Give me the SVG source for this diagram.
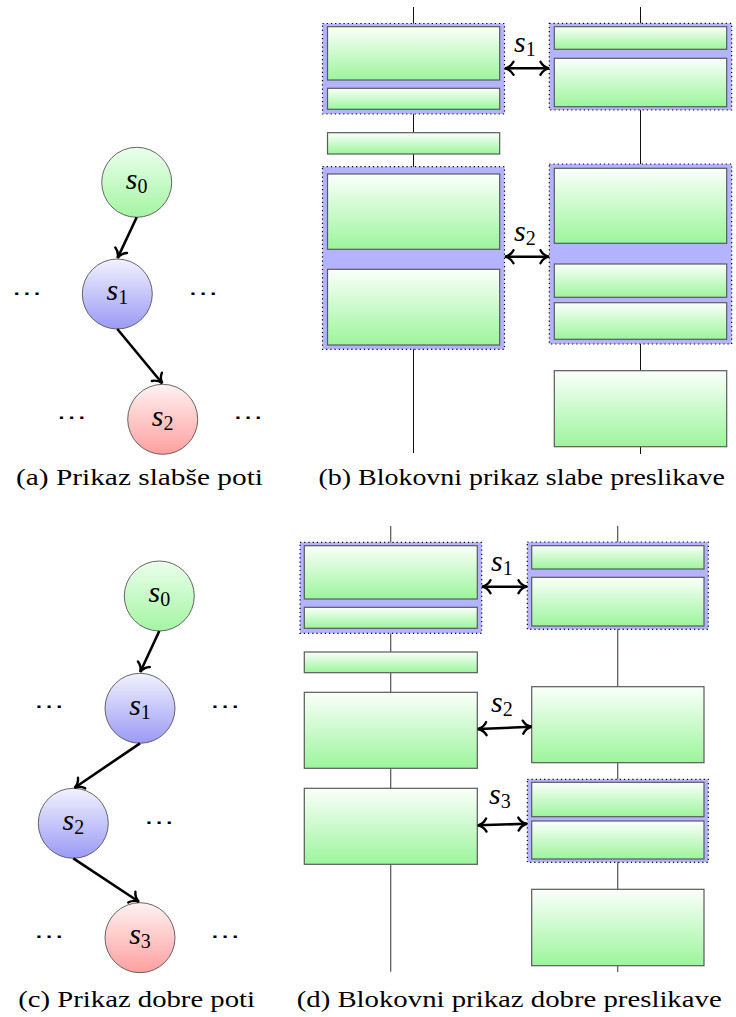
<svg xmlns="http://www.w3.org/2000/svg" width="736" height="1017" viewBox="0 0 736 1017">
  <defs>
    <linearGradient id="gBox" x1="0" y1="0" x2="0" y2="1">
      <stop offset="0" stop-color="#fbfffb"/>
      <stop offset="1" stop-color="#9cf59c"/>
    </linearGradient>
    <linearGradient id="gGreen" x1="0" y1="0" x2="0" y2="1">
      <stop offset="0" stop-color="#ecffec"/>
      <stop offset="1" stop-color="#a3f5a3"/>
    </linearGradient>
    <linearGradient id="gBlue" x1="0" y1="0" x2="0" y2="1">
      <stop offset="0" stop-color="#f2f2ff"/>
      <stop offset="1" stop-color="#9a9af5"/>
    </linearGradient>
    <linearGradient id="gRed" x1="0" y1="0" x2="0" y2="1">
      <stop offset="0" stop-color="#fff2f2"/>
      <stop offset="1" stop-color="#ff9f9f"/>
    </linearGradient>
    <marker id="to" viewBox="-10 -8 12 16" refX="0" refY="0" markerWidth="12" markerHeight="16" markerUnits="userSpaceOnUse" orient="auto-start-reverse">
      <path d="M -8 -6.5 C -6 -2.6 -2.5 -0.7 0.5 0 C -2.5 0.7 -6 2.6 -8 6.5" fill="none" stroke="#000" stroke-width="2.4" stroke-linecap="round"/>
    </marker>
  </defs>
  <style>
    .box { fill: url(#gBox); stroke: #5a5a5a; stroke-width: 1.2; }
    .grp { fill: #b3b3ff; stroke: #000; stroke-width: 1.2; stroke-dasharray: 1.2 3; }
    .axisB { stroke: #111; stroke-width: 1; }
    .axisD { stroke: #555; stroke-width: 1.2; }
    .node { stroke: #555; stroke-width: 0.9; }
    .edge { stroke: #000; stroke-width: 2.6; fill: none; marker-end: url(#to); }
    .map { stroke: #000; stroke-width: 2.6; fill: none; marker-start: url(#to); marker-end: url(#to); }
    .lbl { font-family: "Liberation Serif", serif; font-size: 30px; fill: #000; }
    .lbl .v { font-style: italic; }
    .lbl .i { font-size: 20px; }
    .dots { font-family: "DejaVu Sans", sans-serif; font-size: 20px; fill: #000; }
    .cap { font-family: "Liberation Serif", serif; font-size: 23px; fill: #000; }
  </style>

  <!-- (a) weaker path -->
  <g id="pathA">
    <g id="a-s0"><circle class="node" cx="136.7" cy="182.3" r="35" fill="url(#gGreen)"/><text class="lbl" x="136.7" y="188.5" text-anchor="middle"><tspan class="v">s</tspan><tspan class="i" dy="4">0</tspan></text></g>
    <g id="a-s1"><circle class="node" cx="117.3" cy="294" r="35" fill="url(#gBlue)"/><text class="lbl" x="117.3" y="300.2" text-anchor="middle"><tspan class="v">s</tspan><tspan class="i" dy="4">1</tspan></text></g>
    <g id="a-s2"><circle class="node" cx="162.7" cy="419.3" r="35" fill="url(#gRed)"/><text class="lbl" x="162.7" y="425.5" text-anchor="middle"><tspan class="v">s</tspan><tspan class="i" dy="4">2</tspan></text></g>
    <g id="a-dots" class="dots">
      <text x="27" y="300" text-anchor="middle" textLength="30" lengthAdjust="spacingAndGlyphs">⋯</text>
      <text x="203.3" y="300" text-anchor="middle" textLength="30" lengthAdjust="spacingAndGlyphs">⋯</text>
      <text x="71.7" y="424" text-anchor="middle" textLength="30" lengthAdjust="spacingAndGlyphs">⋯</text>
      <text x="248.3" y="424" text-anchor="middle" textLength="30" lengthAdjust="spacingAndGlyphs">⋯</text>
    </g>
  </g>
  <g id="edgesA">
    <line class="edge" x1="136.7" y1="217.3" x2="117.8" y2="257.5"/>
    <line class="edge" x1="117.3" y1="329" x2="162" y2="383"/>
  </g>
  <text class="cap" x="16" y="485" textLength="247" lengthAdjust="spacingAndGlyphs">(a) Prikaz slabše poti</text>

  <!-- (b) block view of the weak mapping -->
  <g id="axesB">
    <line class="axisB" x1="413.5" y1="7" x2="413.5" y2="453"/>
    <line class="axisB" x1="640.5" y1="7" x2="640.5" y2="454"/>
  </g>
  <g id="b-L1">
    <rect class="grp" x="322.5" y="23.5" width="182" height="90.5"/>
    <rect class="box" x="327.5" y="26.7" width="172.2" height="53.3"/>
    <rect class="box" x="327.5" y="88.3" width="172.2" height="21"/>
  </g>
  <g id="b-L2"><rect class="box" x="327.5" y="132.7" width="172.2" height="21.3"/></g>
  <g id="b-L3">
    <rect class="grp" x="322.5" y="166.7" width="182" height="182.6"/>
    <rect class="box" x="327.5" y="174" width="172.2" height="75.3"/>
    <rect class="box" x="327.5" y="269.3" width="172.2" height="75.7"/>
  </g>
  <g id="b-R1">
    <rect class="grp" x="549.3" y="23.3" width="182.4" height="86.7"/>
    <rect class="box" x="554.3" y="26.7" width="172.4" height="22.6"/>
    <rect class="box" x="554.3" y="58.3" width="172.4" height="48.4"/>
  </g>
  <g id="b-R2">
    <rect class="grp" x="549.3" y="164" width="182.4" height="180"/>
    <rect class="box" x="554.3" y="168.3" width="172.4" height="75"/>
    <rect class="box" x="554.3" y="264" width="172.4" height="33.3"/>
    <rect class="box" x="554.3" y="302.7" width="172.4" height="36.6"/>
  </g>
  <g id="b-R3"><rect class="box" x="554.3" y="370.7" width="172.4" height="76"/></g>
  <g id="mapsB">
    <line class="map" x1="505.5" y1="68.3" x2="548.5" y2="68.3"/>
    <line class="map" x1="505.5" y1="256.7" x2="548.5" y2="256.7"/>
  </g>
  <g id="mapLabelsB">
    <text class="lbl" x="514" y="51.5"><tspan class="v">s</tspan><tspan class="i" dy="4">1</tspan></text>
    <text class="lbl" x="514" y="240.5"><tspan class="v">s</tspan><tspan class="i" dy="4">2</tspan></text>
  </g>
  <text class="cap" x="318.5" y="485" textLength="406.5" lengthAdjust="spacingAndGlyphs">(b) Blokovni prikaz slabe preslikave</text>

  <!-- (c) better path -->
  <g id="pathC">
    <g id="c-s0"><circle class="node" cx="159.3" cy="596" r="35" fill="url(#gGreen)"/><text class="lbl" x="159.3" y="602.2" text-anchor="middle"><tspan class="v">s</tspan><tspan class="i" dy="4">0</tspan></text></g>
    <g id="c-s1"><circle class="node" cx="140" cy="708.3" r="35" fill="url(#gBlue)"/><text class="lbl" x="140" y="714.5" text-anchor="middle"><tspan class="v">s</tspan><tspan class="i" dy="4">1</tspan></text></g>
    <g id="c-s2"><circle class="node" cx="73.3" cy="823.3" r="35" fill="url(#gBlue)"/><text class="lbl" x="73.3" y="829.5" text-anchor="middle"><tspan class="v">s</tspan><tspan class="i" dy="4">2</tspan></text></g>
    <g id="c-s3"><circle class="node" cx="140" cy="937.7" r="35" fill="url(#gRed)"/><text class="lbl" x="140" y="943.9" text-anchor="middle"><tspan class="v">s</tspan><tspan class="i" dy="4">3</tspan></text></g>
    <g id="c-dots" class="dots">
      <text x="49.3" y="713.4" text-anchor="middle" textLength="30" lengthAdjust="spacingAndGlyphs">⋯</text>
      <text x="225.3" y="713.4" text-anchor="middle" textLength="30" lengthAdjust="spacingAndGlyphs">⋯</text>
      <text x="159.3" y="829" text-anchor="middle" textLength="30" lengthAdjust="spacingAndGlyphs">⋯</text>
      <text x="49.3" y="943.4" text-anchor="middle" textLength="30" lengthAdjust="spacingAndGlyphs">⋯</text>
      <text x="225.3" y="943.4" text-anchor="middle" textLength="30" lengthAdjust="spacingAndGlyphs">⋯</text>
    </g>
  </g>
  <g id="edgesC">
    <line class="edge" x1="159.3" y1="631" x2="140.5" y2="671.5"/>
    <line class="edge" x1="140" y1="743.3" x2="75" y2="787.5"/>
    <line class="edge" x1="73.3" y1="858.3" x2="138.5" y2="901.5"/>
  </g>
  <text class="cap" x="18.3" y="1006.5" textLength="236.7" lengthAdjust="spacingAndGlyphs">(c) Prikaz dobre poti</text>

  <!-- (d) block view of the good mapping -->
  <g id="axesD">
    <line class="axisD" x1="390.7" y1="526" x2="390.7" y2="971.7"/>
    <line class="axisD" x1="617.7" y1="526" x2="617.7" y2="972"/>
  </g>
  <g id="d-L1">
    <rect class="grp" x="300" y="542.3" width="181.7" height="91"/>
    <rect class="box" x="304.3" y="545.7" width="173" height="53.3"/>
    <rect class="box" x="304.3" y="607.3" width="173" height="21"/>
  </g>
  <g id="d-L2"><rect class="box" x="304.3" y="652" width="173" height="20.7"/></g>
  <g id="d-L3"><rect class="box" x="304.3" y="692.3" width="173" height="76"/></g>
  <g id="d-L4"><rect class="box" x="304.3" y="788.3" width="173" height="76"/></g>
  <g id="d-R1">
    <rect class="grp" x="527.3" y="542" width="181" height="87.3"/>
    <rect class="box" x="531.7" y="545.7" width="172.3" height="23.3"/>
    <rect class="box" x="531.7" y="577.3" width="172.3" height="48.7"/>
  </g>
  <g id="d-R2"><rect class="box" x="531.7" y="686.7" width="172.3" height="76"/></g>
  <g id="d-R3">
    <rect class="grp" x="527.3" y="779.3" width="181" height="83"/>
    <rect class="box" x="531.7" y="782.3" width="172.3" height="34.4"/>
    <rect class="box" x="531.7" y="821" width="172.3" height="38"/>
  </g>
  <g id="d-R4"><rect class="box" x="531.7" y="889.3" width="172.3" height="76.4"/></g>
  <g id="mapsD">
    <line class="map" x1="482.5" y1="586.7" x2="526.5" y2="586.7"/>
    <line class="map" x1="478.3" y1="729" x2="531" y2="726.8"/>
    <line class="map" x1="478.3" y1="825.3" x2="526.5" y2="823.8"/>
  </g>
  <g id="mapLabelsD">
    <text class="lbl" x="491" y="570.5"><tspan class="v">s</tspan><tspan class="i" dy="4">1</tspan></text>
    <text class="lbl" x="491" y="711.5"><tspan class="v">s</tspan><tspan class="i" dy="4">2</tspan></text>
    <text class="lbl" x="489" y="803.5"><tspan class="v">s</tspan><tspan class="i" dy="4">3</tspan></text>
  </g>
  <text class="cap" x="296.7" y="1006.5" textLength="425" lengthAdjust="spacingAndGlyphs">(d) Blokovni prikaz dobre preslikave</text>
</svg>
